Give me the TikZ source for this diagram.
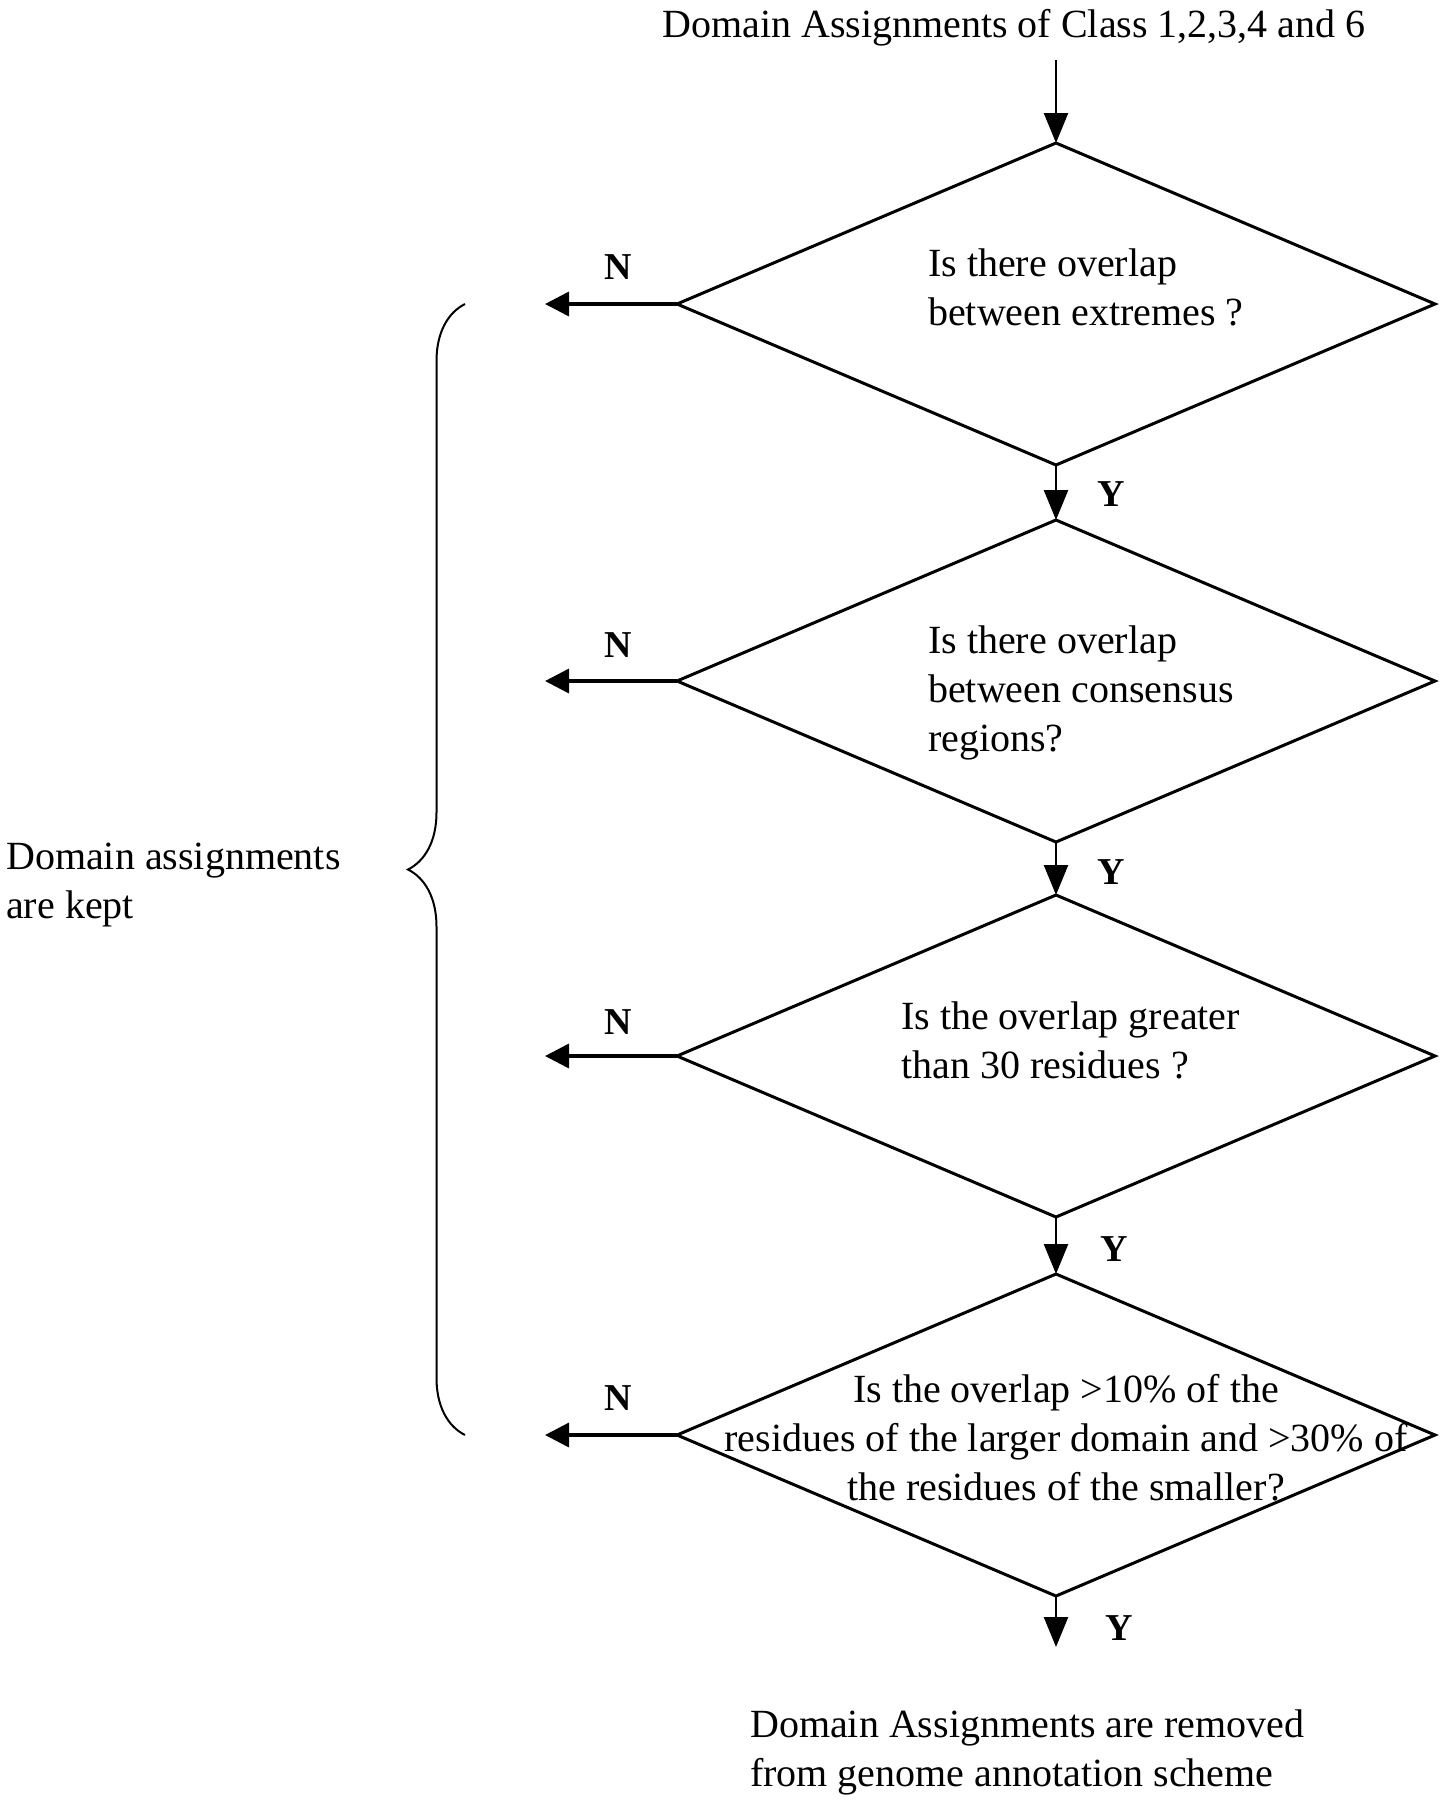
\documentclass[tikz,border=0pt]{standalone}
\usepackage{fontspec}
\setmainfont{Liberation Serif}
\usetikzlibrary{shapes.geometric,arrows.meta,decorations.pathreplacing}
\begin{document}
\begin{tikzpicture}[x=1pt,y=-1pt,
  dia/.style={draw,shape=diamond,line width=3pt,minimum width=758pt,minimum height=322pt,inner sep=0pt,outer sep=0pt},
  txt/.style={font=\fontsize{40}{49}\selectfont,inner sep=0pt},
  lbl/.style={font=\fontsize{38}{44}\selectfont\bfseries,inner sep=0pt},
  arr/.style={line width=2.5pt,-{Triangle[width=24pt,length=30pt]}},
  narr/.style={line width=3.5pt,-{Triangle[width=24pt,length=24pt]}}
]
\useasboundingbox (0,0) rectangle (1449,1800);

\node[dia] (d1) at (1056,304) {};
\node[dia] (d2) at (1056,681) {};
\node[dia] (d3) at (1056,1056) {};
\node[dia] (d4) at (1056,1435) {};

\node[txt,anchor=base] (title) at (1014,37) {Domain Assignments of Class 1,2,3,4 and 6};
\coordinate (s) at (1056,60);
\draw[arr] (s) -- (d1.north);

\node[txt,align=left,anchor=base west] (t1) at (928,325) {Is there overlap\\between extremes ?};
\node[txt,align=left,anchor=base west] (t2) at (928,751) {Is there overlap\\between consensus\\regions?};
\node[txt,align=left,anchor=base west] (t3) at (901,1078) {Is the overlap greater\\than 30 residues ?};
\node[txt,align=center,anchor=base] (t4) at (1066,1500) {Is the overlap >10\% of the\\residues of the larger domain and >30\% of\\the residues of the smaller?};

\draw[arr] (d1.south) -- (d2.north);
\draw[arr] (d2.south) -- (d3.north);
\draw[arr] (d3.south) -- (d4.north);
\coordinate (end) at (1056,1647);
\draw[arr] (d4.south) -- (end);

\coordinate (e1) at (545,304);
\coordinate (e2) at (545,681);
\coordinate (e3) at (545,1056);
\coordinate (e4) at (545,1435);
\draw[narr] (d1.west) -- (e1);
\draw[narr] (d2.west) -- (e2);
\draw[narr] (d3.west) -- (e3);
\draw[narr] (d4.west) -- (e4);

\node[lbl] (n1) at (618,267) {N};
\node[lbl] (n2) at (618,645) {N};
\node[lbl] (n3) at (618,1022) {N};
\node[lbl] (n4) at (618,1398) {N};
\node[lbl] (y1) at (1111,494) {Y};
\node[lbl] (y2) at (1111,872) {Y};
\node[lbl] (y3) at (1114,1249) {Y};
\node[lbl] (y4) at (1119,1628) {Y};

\coordinate (bb) at (465,1435);
\coordinate (bt) at (465,304);
\draw[decorate,decoration={brace,amplitude=57pt},line width=2pt] (bb) -- (bt);
\node[txt,align=left,anchor=base west] (kept) at (6,918) {Domain assignments\\are kept};

\node[txt,align=left,anchor=base west] (rem) at (750,1786) {Domain Assignments are removed\\from genome annotation scheme};
\end{tikzpicture}
\end{document}
